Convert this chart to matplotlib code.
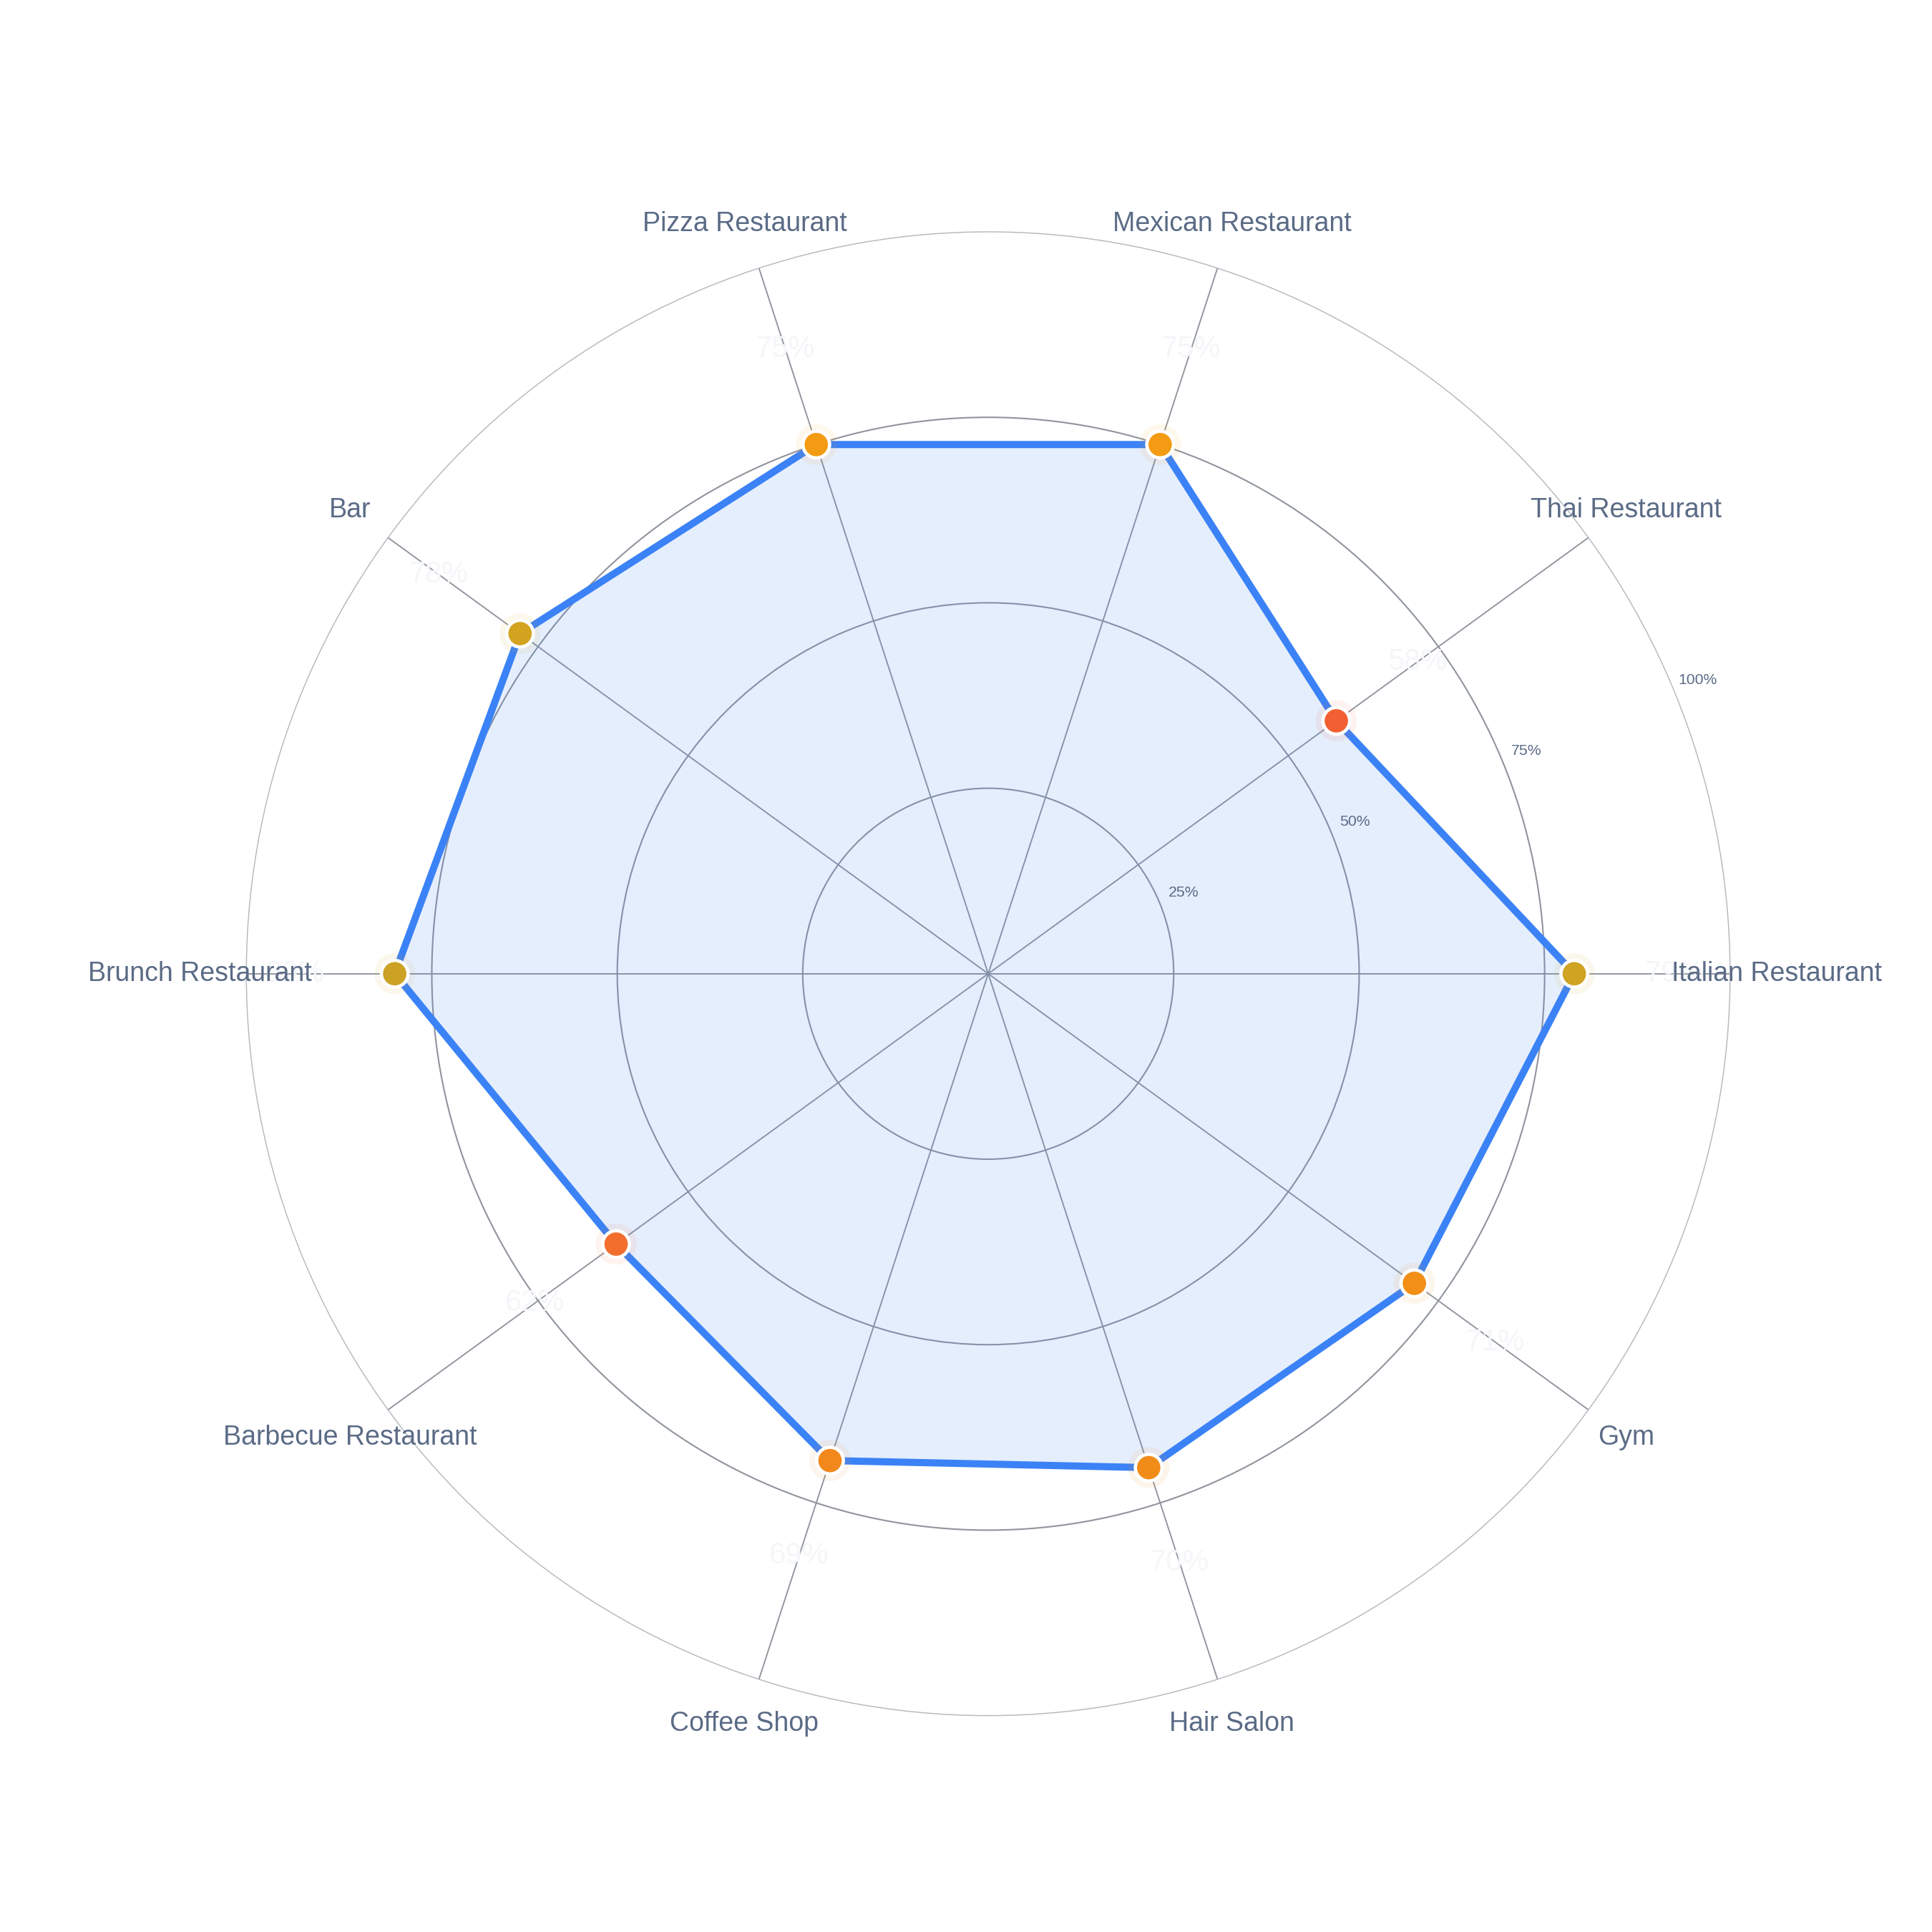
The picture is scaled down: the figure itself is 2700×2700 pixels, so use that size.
import numpy as np
import matplotlib.pyplot as plt
from matplotlib.colors import LinearSegmentedColormap, Normalize

# categories and scores (percent)
categories = ["Italian Restaurant", "Thai Restaurant", "Mexican Restaurant", "Pizza Restaurant",
              "Bar", "Brunch Restaurant", "Barbecue Restaurant", "Coffee Shop", "Hair Salon", "Gym"]
values = [79, 58, 75, 75, 78, 80, 62, 69, 70, 71]
radial_ticks = [25, 50, 75, 100]

plt.rcParams['font.family'] = ['Liberation Sans', 'DejaVu Sans']

n = len(categories)
theta = np.deg2rad(np.arange(n) * 360.0 / n)
theta_c = np.append(theta, theta[0])
vals_c = np.append(values, values[0])

# marker colors from value
cmap = LinearSegmentedColormap.from_list(
    "warm", [(0.0, "#F25F33"), (0.2, "#F3702C"), (0.55, "#F28C18"),
             (0.78, "#F39C12"), (0.88, "#D6A41E"), (1.0, "#CCA225")])
norm = Normalize(vmin=min(values), vmax=max(values))
colors = [cmap(norm(v)) for v in values]

fig = plt.figure(figsize=(9, 9), dpi=300)
ax = fig.add_axes([0.1275, 0.112, 0.768, 0.768], projection='polar')
ax.set_ylim(0, 100)
ax.set_theta_zero_location('E')
ax.set_theta_direction(1)

# grid
ax.set_xticks(theta)
ax.set_xticklabels([])
ax.set_yticks([25, 50, 75])
ax.set_yticklabels([])
ax.tick_params(length=0)
ax.xaxis.grid(True, color='#8f949d', lw=0.45)
ax.yaxis.grid(True, color='#8f949d', lw=0.5)
ax.spines['polar'].set_color('#b5b9bf')
ax.spines['polar'].set_linewidth(0.35)
ax.set_axisbelow(True)

# area + outline
ax.fill(theta_c, vals_c, color='#3B82F6', alpha=0.13, lw=0, zorder=2)
ax.plot(theta_c, vals_c, color='#3B82F6', lw=2.4, solid_joinstyle='round', zorder=3)

# markers with soft halo
ax.scatter(theta, values, s=190, c=colors, alpha=0.08, lw=0, zorder=4)
ax.scatter(theta, values, s=80, c=colors, edgecolors='white', linewidths=1.1, zorder=5)

# faint value labels
for t, v in zip(theta, values):
    ax.text(t, v + 13.5, f"{v}%", ha='center', va='center', fontsize=10,
            color='#f4f6f9', zorder=6)

# category labels
for t, c in zip(theta, categories):
    ax.text(t, 106.3, c, ha='center', va='center', fontsize=9, color='#5b6b86',
            zorder=6, clip_on=False)

# radial labels
ang = np.deg2rad(22.5)
for r in radial_ticks:
    ax.text(ang, r + 3.5, f"{r}%", ha='center', va='center', fontsize=5.1,
            color='#5b6b86', zorder=6, clip_on=False)

fig.savefig('out.png', dpi=300, facecolor='white')
